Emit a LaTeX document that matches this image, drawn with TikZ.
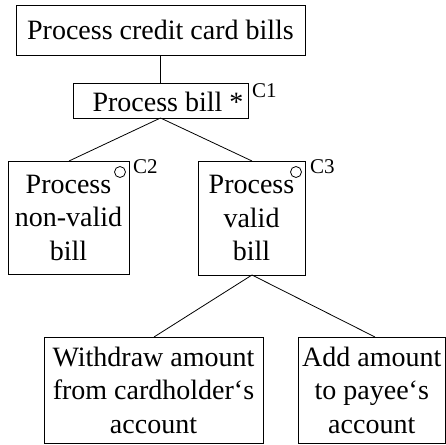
\documentclass[tikz,border=0pt]{standalone}
\usepackage{fontspec}
\setmainfont{Liberation Serif}
\begin{document}
\begin{tikzpicture}[x=1pt,y=1pt,
  frame/.style={draw, line width=0.8pt},
  txt/.style={inner sep=0pt, align=center, font=\fontsize{28}{33.5}\selectfont},
  lab/.style={font=\fontsize{21}{24}\selectfont, inner sep=0pt, anchor=base west},
  ring/.style={circle, draw, line width=0.8pt, minimum size=11pt, inner sep=0pt},
  link/.style={line width=0.8pt}]
\useasboundingbox (0,0) rectangle (446,-444);
% frames
\draw[frame] (16,-5) rectangle (305,-55);
\draw[frame] (73,-83) rectangle (248,-118);
\draw[frame] (8,-161) rectangle (129,-274);
\draw[frame] (198,-161) rectangle (305,-275);
\draw[frame] (44,-337) rectangle (263,-443);
\draw[frame] (298,-337) rectangle (445.5,-443);
% anchor points
\coordinate (topS) at (160.5,-55);
\coordinate (billN) at (160.5,-83);
\coordinate (billS) at (160.5,-118);
\coordinate (nvN) at (69,-161);
\coordinate (vN) at (252,-161);
\coordinate (vS) at (252,-275);
\coordinate (wN) at (154,-337);
\coordinate (aN) at (375,-337);
% texts
\node[txt] (top) at (160.5,-30) {Process credit card bills};
\node[txt, anchor=base] (bill) at (168,-111) {Process bill *};
\node[txt] (nv) at (68.5,-217.5) {Process\\non-valid\\bill};
\node[txt] (v) at (251.5,-218) {Process\\valid\\bill};
\node[txt] (w) at (153.5,-390) {Withdraw amount\\from cardholder‘s\\account};
\node[txt] (a) at (371.75,-390) {Add amount\\to payee‘s\\account};
\node[ring] (o2) at (120,-172) {};
\node[ring] (o3) at (296,-172) {};
\node[lab] (c1) at (252,-97) {C1};
\node[lab] (c2) at (133,-173) {C2};
\node[lab] (c3) at (310,-173) {C3};
\draw[link] (topS) -- (billN);
\draw[link] (billS) -- (nvN);
\draw[link] (billS) -- (vN);
\draw[link] (vS) -- (wN);
\draw[link] (vS) -- (aN);
\end{tikzpicture}
\end{document}
